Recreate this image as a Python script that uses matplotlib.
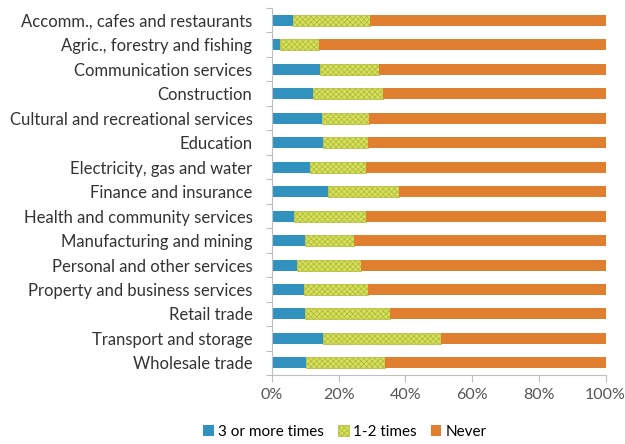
import numpy as np
import matplotlib.pyplot as plt
from matplotlib.ticker import PercentFormatter

plt.rcParams['font.family'] = ['Lato', 'DejaVu Sans']
plt.rcParams['hatch.linewidth'] = 0.5

industries = [
    'Accomm., cafes and restaurants',
    'Agric., forestry and fishing',
    'Communication services',
    'Construction',
    'Cultural and recreational services',
    'Education',
    'Electricity, gas and water',
    'Finance and insurance',
    'Health and community services',
    'Manufacturing and mining',
    'Personal and other services',
    'Property and business services',
    'Retail trade',
    'Transport and storage',
    'Wholesale trade',
]
three_plus = [6.4, 2.4, 14.4, 12.4, 14.9, 15.4, 11.4, 16.9, 6.7, 9.9, 7.6, 9.6, 9.9, 15.2, 10.2]
one_two = [23.0, 11.8, 17.8, 20.8, 14.1, 13.5, 16.8, 21.3, 21.5, 14.7, 19.0, 19.3, 25.5, 35.5, 23.6]
never = [100 - a - b for a, b in zip(three_plus, one_two)]

blue = '#3191bf'
green = '#d6e05e'
orange = '#e07f30'

fig = plt.figure(figsize=(6.25, 4.44), dpi=100)
ax = fig.add_axes([0.435, 0.155, 0.534, 0.827])

y = np.arange(len(industries))
h = 0.45
ax.barh(y, three_plus, height=h, color=blue, label='3 or more times')
left = np.array(three_plus)
ax.barh(y, one_two, left=left, height=h, facecolor=green, edgecolor='#adb935',
        hatch='xxxxxx', linewidth=0.5, label='1-2 times')
left = left + np.array(one_two)
ax.barh(y, never, left=left, height=h, color=orange, label='Never')

ax.set_xlim(0, 100)
ax.set_ylim(len(industries) - 0.5, -0.5)
ax.set_xticks(np.arange(0, 101, 20))
ax.xaxis.set_major_formatter(PercentFormatter(decimals=0))
ax.set_yticks(y)
ax.set_yticklabels(industries)
ax.set_yticks(np.arange(-0.5, len(industries)), minor=True)
ax.tick_params(axis='y', which='major', length=0, pad=14, labelsize=12.0, labelcolor='#333333')
ax.tick_params(axis='y', which='minor', length=4, color='#bfbfbf', width=0.8)
ax.tick_params(axis='x', length=5, color='#bfbfbf', width=0.8, labelsize=11.5,
               labelcolor='#555555', pad=4)

for s in ['top', 'right']:
    ax.spines[s].set_visible(False)
for s in ['left', 'bottom']:
    ax.spines[s].set_color('#bfbfbf')
    ax.spines[s].set_linewidth(0.8)

fig.legend(loc='center', bbox_to_anchor=(345 / 625, 1 - 432 / 444), ncol=3,
           frameon=False, fontsize=11, handlelength=0.7, handleheight=0.7,
           handletextpad=0.3, columnspacing=0.9)

fig.savefig('out.png', dpi=100)
